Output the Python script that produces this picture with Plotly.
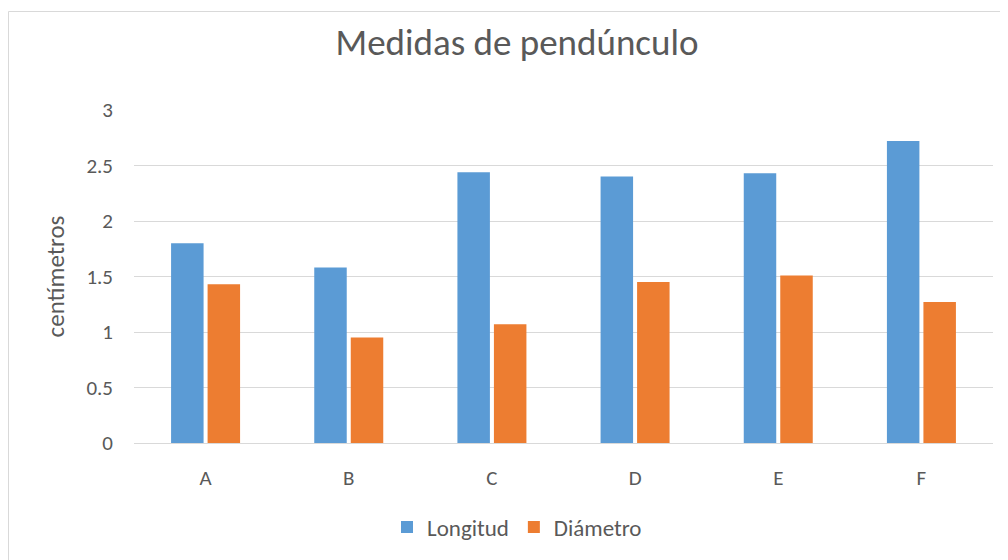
import plotly.graph_objects as go

categories = ['A', 'B', 'C', 'D', 'E', 'F']
longitud = [1.80, 1.58, 2.44, 2.40, 2.43, 2.72]
diametro = [1.43, 0.95, 1.07, 1.45, 1.51, 1.27]
y_ticks = [0, 0.5, 1, 1.5, 2, 2.5, 3]
y_tick_labels = ['0', '0.5', '1', '1.5', '2', '2.5', '3']

FONT = 'Carlito, Lato, sans-serif'
GREY = '#595959'

# page has an 8px body margin, so the figure is 1000x552 starting at (8, 8)
OFF = 8
W, H = 1000, 552
# plot area in page pixels: x 134..993, y 110..443
L, R, T, B = 134 - OFF, 15, 110 - OFF, 117
PW, PH = W - L - R, H - T - B

def px_x(x):
    return (x - OFF - L) / PW

def px_y(y):
    return (H - B - (y - OFF)) / PH

fig = go.Figure()

fig.add_trace(go.Bar(
    x=categories,
    y=longitud,
    name='Longitud',
    marker=dict(color='#5B9BD5', line=dict(width=0))
))
fig.add_trace(go.Bar(
    x=categories,
    y=diametro,
    name='Diámetro',
    marker=dict(color='#ED7D31', line=dict(width=0))
))

# chart frame (left edge sits at the very start of the figure)
fig.add_shape(
    type='rect', xref='paper', yref='paper',
    x0=px_x(8.5), x1=px_x(1030), y0=px_y(11.5), y1=px_y(600),
    line=dict(color='#D9D9D9', width=1), layer='below'
)

fig.update_layout(
    title=dict(
        text='Medidas de pendúnculo',
        font=dict(family=FONT, size=37, color=GREY),
        x=px_x(517), xref='paper', xanchor='center',
        y=1 - (42 - OFF) / H, yanchor='middle'
    ),
    xaxis=dict(
        tickfont=dict(family=FONT, size=21, color=GREY),
        showline=True, linecolor='#D9D9D9', linewidth=1,
        ticks='', ticklabelstandoff=16
    ),
    yaxis=dict(
        title=dict(
            text='centímetros',
            font=dict(family=FONT, size=25, color=GREY),
            standoff=14
        ),
        range=[0, 3],
        tickvals=y_ticks,
        ticktext=y_tick_labels,
        tickfont=dict(family=FONT, size=21, color=GREY),
        gridcolor='#D9D9D9', gridwidth=1,
        zeroline=False,
        ticklabelstandoff=20
    ),
    bargap=0.49,
    bargroupgap=0.11,
    legend=dict(
        orientation='h',
        x=px_x(517), xanchor='center',
        y=px_y(527), yanchor='middle',
        font=dict(family=FONT, size=23, color=GREY)
    ),
    plot_bgcolor='white',
    paper_bgcolor='white',
    width=W,
    height=H,
    margin=dict(l=L, r=R, t=T, b=B)
)

fig.write_html("out.html")
